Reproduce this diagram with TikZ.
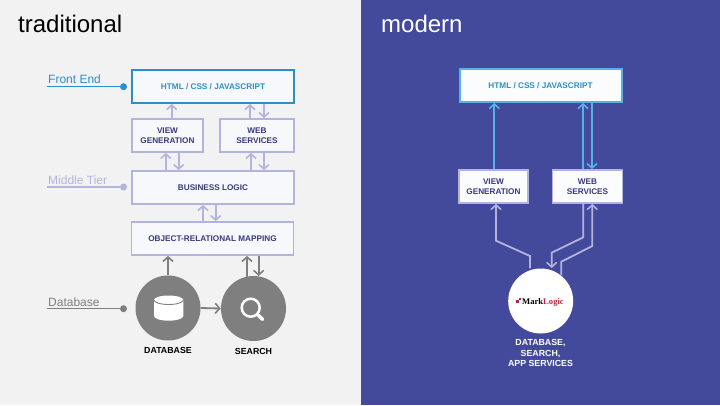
\documentclass[tikz,border=0pt]{standalone}
\usepackage{fontspec}
\setmainfont{Liberation Sans}
\newfontfamily\logofont{Liberation Serif}
\usetikzlibrary{arrows.meta}
\definecolor{panelgray}{HTML}{F2F2F2}
\definecolor{panelblue}{HTML}{434A9B}
\definecolor{frontblue}{HTML}{2F8FC4}
\definecolor{skyblue}{HTML}{58B0EA}
\definecolor{tierlilac}{HTML}{B3B4DE}
\definecolor{inklilac}{HTML}{37397F}
\definecolor{dbgray}{HTML}{7F7F7F}
\definecolor{boxfill}{HTML}{F6F8FC}
\definecolor{logored}{HTML}{B5243C}
\tikzset{
  box/.style={draw=tierlilac,line width=1.8pt,fill=boxfill,text=inklilac,inner sep=0pt,
    align=center,font=\bfseries\fontsize{8.2}{9.8}\selectfont,minimum height=33pt},
  frontbox/.style={box,text=frontblue,draw=frontblue,line width=2pt},
  modernbox/.style={box,text=frontblue,draw=skyblue,line width=2pt,fill=white!60!boxfill},
  liftbox/.style={box,fill=white!60!boxfill},
  flow/.style={draw=tierlilac,line width=1.8pt,-{Straight Barb[length=4.5pt,width=10pt,line width=1.6pt]}},
  dbflow/.style={flow,draw=dbgray},
  skyflow/.style={flow,draw=skyblue},
  tier/.style={circle,inner sep=0pt,minimum size=7pt,fill=#1},
  tierline/.style={line width=1.3pt,draw=#1},
  tiertext/.style={anchor=base west,inner sep=0pt,font=\fontsize{12}{14}\selectfont,text=#1},
  store/.style={circle,fill=dbgray,minimum size=65pt,inner sep=0pt},
  caption/.style={inner sep=0pt,align=center,font=\bfseries\fontsize{8.8}{10.4}\selectfont},
  title/.style={anchor=base west,inner sep=0pt,font=\fontsize{24}{26}\selectfont}
}
\begin{document}
\begin{tikzpicture}[x=1pt,y=-1pt]
  \fill[panelgray] (0,0) rectangle (361,405);
  \fill[panelblue] (361,0) rectangle (720,405);
  \node[title,text=black] (tradtitle) at (18,32) {traditional};
  \node[title,text=white] (modtitle) at (381,32) {modern};

  % left panel
  \node[frontbox,minimum width=162pt] (html) at (213,86.5) {HTML / CSS / JAVASCRIPT};
  \node[box,minimum width=71pt] (view) at (167.5,135.5) {VIEW\\GENERATION};
  \node[box,minimum width=74pt] (web) at (257,135.5) {WEB\\SERVICES};
  \node[box,minimum width=162pt] (logic) at (213,187.5) {BUSINESS LOGIC};
  \node[box,minimum width=162pt] (orm) at (212.5,238.5) {OBJECT-RELATIONAL MAPPING};
  \node[store] (db) at (168,308) {};
  \node[store] (search) at (253.5,308.5) {};
  \node[caption] (dbcap) at (168,350) {DATABASE};
  \node[caption] (searchcap) at (253.5,351) {SEARCH};

  \node[tiertext=frontblue] (fetext) at (48,83) {Front End};
  \node[tiertext=tierlilac] (mttext) at (48,184.5) {Middle Tier};
  \node[tiertext=dbgray] (dbtext) at (48,306) {Database};
  \node[tier=frontblue] (fedot) at (123.5,86.7) {};
  \node[tier=tierlilac] (mtdot) at (123.5,187) {};
  \node[tier=dbgray] (dbdot) at (123.5,308.7) {};
  \coordinate (festart) at (47,86.7);
  \coordinate (mtstart) at (47,187);
  \coordinate (dbstart) at (47,308.7);
  \draw[tierline=frontblue] (festart) -- (fedot);
  \draw[tierline=tierlilac] (mtstart) -- (mtdot);
  \draw[tierline=dbgray] (dbstart) -- (dbdot);

  \draw[flow] (171.7,0 |- view.north) -- (171.7,0 |- html.south);
  \draw[flow] (250,0 |- web.north) -- (250,0 |- html.south);
  \draw[flow] (264,0 |- html.south) -- (264,0 |- web.north);
  \draw[flow] (165.7,0 |- logic.north) -- (165.7,0 |- view.south);
  \draw[flow] (178.7,0 |- view.south) -- (178.7,0 |- logic.north);
  \draw[flow] (251,0 |- logic.north) -- (251,0 |- web.south);
  \draw[flow] (264,0 |- web.south) -- (264,0 |- logic.north);
  \draw[flow] (203,0 |- orm.north) -- (203,0 |- logic.south);
  \draw[flow] (215.7,0 |- logic.south) -- (215.7,0 |- orm.north);
  \draw[dbflow] (db.north) -- (db.north |- orm.south);
  \draw[dbflow] (247,277) -- (247,0 |- orm.south);
  \draw[dbflow] (258.7,0 |- orm.south) -- (258.7,276);
  \draw[dbflow] (db.east) -- (search.west);

  % database and search icons
  \fill[white] (154,300) -- (154,316) arc (180:0:14.65 and 4.7) -- (183.3,300) arc (0:-180:14.65 and 4.5) -- cycle;
  \draw[dbgray,line width=0.9pt] (154,300) arc (180:0:14.65 and 4.5);
  \draw[white,line width=2.5pt] (250.7,307.7) circle (9pt);
  \draw[white,line width=3.5pt,line cap=round] (257.7,314.7) -- (262.6,319.4);

  % right panel
  \node[modernbox,minimum width=162pt] (mhtml) at (540.5,85.5) {HTML / CSS / JAVASCRIPT};
  \node[liftbox,minimum width=69pt] (mview) at (493.5,186.5) {VIEW\\GENERATION};
  \node[liftbox,minimum width=70pt] (mweb) at (587.5,186.5) {WEB\\SERVICES};
  \node[circle,fill=white,minimum size=65pt,inner sep=0pt] (logo) at (540.7,301) {};
  \node[inner sep=0pt,font=\logofont\bfseries\fontsize{8.6}{9}\selectfont] (logotext) at (543,302) {Mark\textcolor{logored}{Logic}};
  \fill[logored] (515.5,299.5) rectangle (519,303);
  \fill[logored] (518.5,297.5) rectangle (521,300);
  \node[caption,text=white] (mcap) at (540.5,353) {DATABASE,\\SEARCH,\\APP SERVICES};

  \draw[skyflow] (494.3,0 |- mview.north) -- (494.3,0 |- mhtml.south);
  \draw[skyflow] (583,0 |- mweb.north) -- (583,0 |- mhtml.south);
  \draw[skyflow] (592,0 |- mhtml.south) -- (592,0 |- mweb.north);
  \draw[flow] (530,0 |- logo.north) -- (530,256) -- (496,240.7) -- (496,0 |- mview.south);
  \draw[flow] (583.3,0 |- mweb.south) -- (583.3,237.3) -- (551.7,252.7) -- (551.7,268);
  \draw[flow] (561.3,275) -- (561.3,261.7) -- (592.3,246) -- (592.3,0 |- mweb.south);
\end{tikzpicture}
\end{document}
